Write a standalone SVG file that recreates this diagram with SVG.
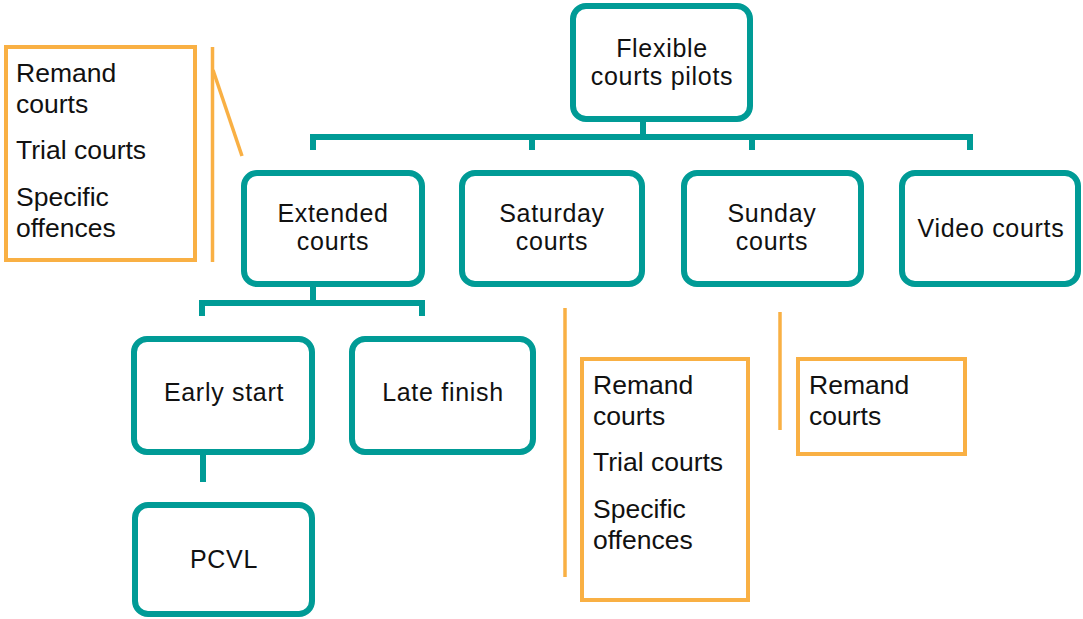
<svg xmlns="http://www.w3.org/2000/svg" width="1083" height="619" viewBox="0 0 1083 619">
<style>
.node rect{fill:#fff;stroke:#009B96;stroke-width:6}
.node text{font-family:"Liberation Sans",Arial,sans-serif;font-size:25px;letter-spacing:0.7px;fill:#111;text-anchor:middle}
.note rect{fill:#fff;stroke:#F9B044;stroke-width:4}
.note text{font-family:"Liberation Sans",Arial,sans-serif;font-size:26.5px;fill:#111}
.conn path{fill:none;stroke:#009B96;stroke-width:6;stroke-linejoin:miter;stroke-linecap:butt}
.bracket path{fill:none;stroke:#F9B044;stroke-width:3.5}
</style>
<rect width="1083" height="619" fill="#fff"/>
<g id="connectors" class="conn">
<path d="M643,122 V137"/>
<path d="M313,150 V137 H970 V150"/>
<path d="M532,137 V150"/>
<path d="M752,137 V150"/>
<path d="M313,287 V303"/>
<path d="M202,316 V303 H422 V316"/>
<path d="M203,455 V482"/>
</g>
<g id="brackets" class="bracket">
<path d="M212.5,47 V262"/>
<path d="M213,70 L242,156"/>
<path d="M565,308 V577"/>
<path d="M780,312 V430"/>
</g>
<g id="root" class="node"><rect x="573" y="6" width="177" height="113" rx="13"/><text x="662" y="57">Flexible</text><text x="662" y="85">courts pilots</text></g>
<g id="extended" class="node"><rect x="244" y="173" width="178" height="111" rx="13"/><text x="333" y="222">Extended</text><text x="333" y="250">courts</text></g>
<g id="saturday" class="node"><rect x="462" y="173" width="180" height="111" rx="13"/><text x="552" y="222">Saturday</text><text x="552" y="250">courts</text></g>
<g id="sunday" class="node"><rect x="684" y="173" width="177" height="111" rx="13"/><text x="772" y="222">Sunday</text><text x="772" y="250">courts</text></g>
<g id="video" class="node"><rect x="902" y="173" width="176" height="111" rx="13"/><text x="991" y="237">Video courts</text></g>
<g id="early" class="node"><rect x="134" y="339" width="178" height="113" rx="13"/><text x="224" y="401">Early start</text></g>
<g id="late" class="node"><rect x="352" y="339" width="181" height="113" rx="13"/><text x="443" y="401">Late finish</text></g>
<g id="pcvl" class="node"><rect x="135" y="505" width="177" height="109" rx="13"/><text x="224" y="568">PCVL</text></g>
<g id="note-extended" class="note"><rect x="6" y="47" width="189" height="213"/><text x="16" y="82">Remand</text><text x="16" y="113">courts</text><text x="16" y="159">Trial courts</text><text x="16" y="206">Specific</text><text x="16" y="237">offences</text></g>
<g id="note-saturday" class="note"><rect x="582" y="359" width="166" height="241"/><text x="593" y="394">Remand</text><text x="593" y="425">courts</text><text x="593" y="471">Trial courts</text><text x="593" y="518">Specific</text><text x="593" y="549">offences</text></g>
<g id="note-sunday" class="note"><rect x="798" y="359" width="167" height="95"/><text x="809" y="394">Remand</text><text x="809" y="425">courts</text></g>
</svg>
